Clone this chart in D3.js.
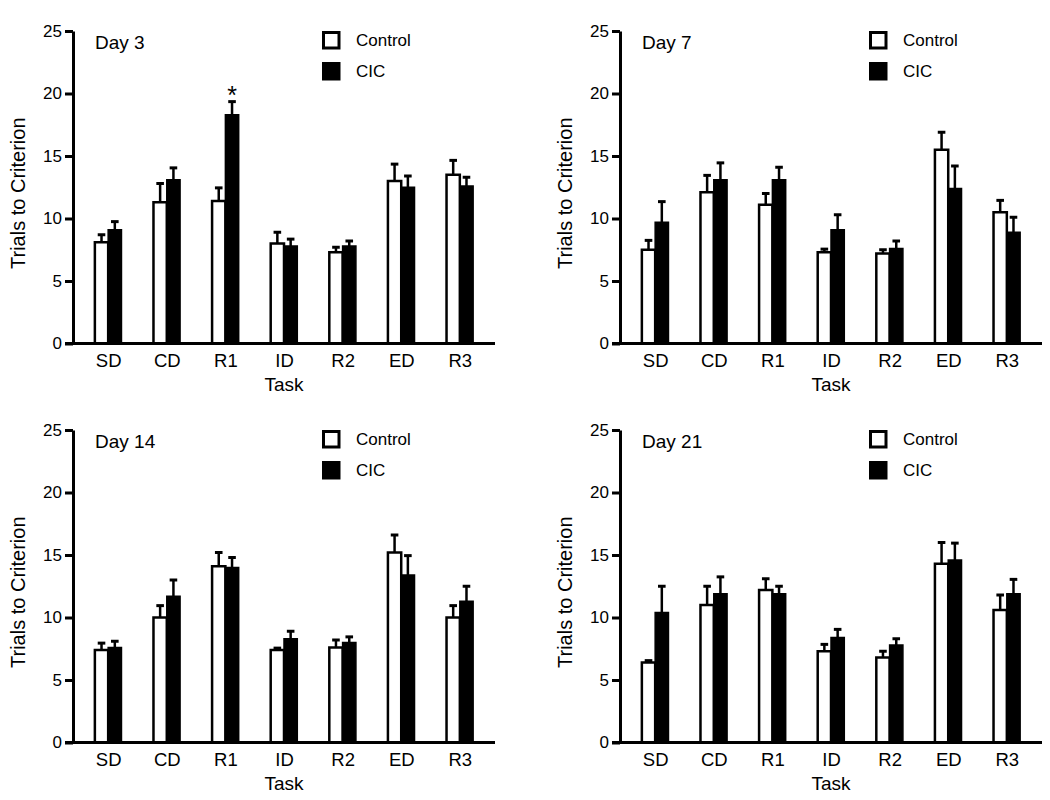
<!DOCTYPE html>
<html>
	<head>
		<title>Trials to Criterion</title>
		<meta http-equiv='Content-Type' content='text/html;charset=utf-8'/>
		<style>
		body {
			margin: 0;
			background: #ffffff;
		}
		svg {
			font-family: 'Liberation Sans', Arial, sans-serif;
			display: block;
		}
		.axis path, .axis line {
			fill: none;
			stroke: #000000;
			stroke-width: 3px;
		}
		.axis text {
			fill: #000000;
		}
		</style>
	</head>

	<body>
	<script src='https://d3js.org/d3.v7.min.js'></script>

	<script>
	'use strict';

	// data
	const tasks = ['SD', 'CD', 'R1', 'ID', 'R2', 'ED', 'R3'];
	const days = ['Day 3', 'Day 7', 'Day 14', 'Day 21'];
	const groups = ['Control', 'CIC'];
	const yTicks = [0, 5, 10, 15, 20, 25];

	const day3Control    = [8.1, 11.3, 11.4, 8.0, 7.3, 13.0, 13.5];
	const day3ControlErr = [0.6, 1.5, 1.05, 0.9, 0.4, 1.35, 1.15];
	const day3Cic        = [9.1, 13.1, 18.3, 7.8, 7.8, 12.5, 12.6];
	const day3CicErr     = [0.65, 0.95, 1.05, 0.55, 0.4, 0.9, 0.7];

	const day7Control    = [7.5, 12.1, 11.1, 7.3, 7.2, 15.5, 10.5];
	const day7ControlErr = [0.75, 1.35, 0.9, 0.25, 0.3, 1.4, 0.95];
	const day7Cic        = [9.7, 13.1, 13.1, 9.1, 7.6, 12.4, 8.9];
	const day7CicErr     = [1.65, 1.35, 1.0, 1.2, 0.6, 1.8, 1.2];

	const day14Control    = [7.4, 10.0, 14.1, 7.4, 7.6, 15.2, 10.0];
	const day14ControlErr = [0.55, 0.95, 1.1, 0.15, 0.6, 1.4, 0.95];
	const day14Cic        = [7.6, 11.7, 14.0, 8.3, 8.0, 13.4, 11.3];
	const day14CicErr     = [0.5, 1.3, 0.8, 0.6, 0.45, 1.55, 1.2];

	const day21Control    = [6.4, 11.0, 12.2, 7.3, 6.8, 14.3, 10.6];
	const day21ControlErr = [0.15, 1.5, 0.9, 0.55, 0.5, 1.7, 1.2];
	const day21Cic        = [10.4, 11.9, 11.9, 8.4, 7.8, 14.6, 11.9];
	const day21CicErr     = [2.1, 1.35, 0.6, 0.65, 0.5, 1.35, 1.15];

	// significant differences (day, task) marked with a star
	const significant = [['Day 3', 'R1']];

	const controlByDay = [day3Control, day7Control, day14Control, day21Control];
	const controlErrByDay = [day3ControlErr, day7ControlErr, day14ControlErr, day21ControlErr];
	const cicByDay = [day3Cic, day7Cic, day14Cic, day21Cic];
	const cicErrByDay = [day3CicErr, day7CicErr, day14CicErr, day21CicErr];

	// panel layout
	const panelW = 422;
	const panelH = 312.5;
	const origins = [[73, 31], [620, 31], [73, 430], [620, 430]];
	const barW = 13.3;

	const svg = d3.select('body').append('svg')
		.attr('width', 1050)
		.attr('height', 800);

	days.forEach(function(day, k) {
		const g = svg.append('g')
			.attr('transform', 'translate(' + origins[k][0] + ',' + origins[k][1] + ')');

		const x = d3.scalePoint()
			.domain(tasks)
			.range([0, panelW])
			.padding(0.6);

		const y = d3.scaleLinear()
			.domain([0, 25])
			.range([panelH, 0]);

		const rows = tasks.map(function(t, i) {
			return {
				task: t,
				control: controlByDay[k][i],
				controlErr: controlErrByDay[k][i],
				cic: cicByDay[k][i],
				cicErr: cicErrByDay[k][i]
			};
		});

		// error bars (drawn first so the bar outline sits over the stem)
		const bars = [
			{key: 'control', err: 'controlErr', dx: -barW / 2},
			{key: 'cic', err: 'cicErr', dx: barW / 2}
		];
		bars.forEach(function(b) {
			g.selectAll('.stem-' + b.key)
				.data(rows)
				.enter()
				.append('line')
				.attr('x1', function(d) { return x(d.task) + b.dx; })
				.attr('x2', function(d) { return x(d.task) + b.dx; })
				.attr('y1', function(d) { return y(d[b.key]); })
				.attr('y2', function(d) { return y(d[b.key] + d[b.err]); })
				.attr('stroke', '#000')
				.attr('stroke-width', 2.5);
			g.selectAll('.cap-' + b.key)
				.data(rows)
				.enter()
				.append('line')
				.attr('x1', function(d) { return x(d.task) + b.dx - 3.8; })
				.attr('x2', function(d) { return x(d.task) + b.dx + 3.8; })
				.attr('y1', function(d) { return y(d[b.key] + d[b.err]); })
				.attr('y2', function(d) { return y(d[b.key] + d[b.err]); })
				.attr('stroke', '#000')
				.attr('stroke-width', 3);
		});

		// control bars
		g.selectAll('.control')
			.data(rows)
			.enter()
			.append('rect')
			.attr('x', function(d) { return x(d.task) - barW; })
			.attr('width', barW)
			.attr('y', function(d) { return y(d.control); })
			.attr('height', function(d) { return panelH - y(d.control); })
			.attr('fill', '#fff')
			.attr('stroke', '#000')
			.attr('stroke-width', 2.5);

		// CIC bars
		g.selectAll('.cic')
			.data(rows)
			.enter()
			.append('rect')
			.attr('x', function(d) { return x(d.task); })
			.attr('width', barW)
			.attr('y', function(d) { return y(d.cic); })
			.attr('height', function(d) { return panelH - y(d.cic); })
			.attr('fill', '#000')
			.attr('stroke', '#000')
			.attr('stroke-width', 1.5);

		// stars
		significant.filter(function(s) { return s[0] === day; }).forEach(function(s) {
			const d = rows[tasks.indexOf(s[1])];
			g.append('text')
				.attr('x', x(d.task) + barW / 2)
				.attr('y', y(d.cic + d.cicErr) + 2)
				.attr('text-anchor', 'middle')
				.style('font-size', '25px')
				.text('*');
		});

		// y axis
		const yAxis = g.append('g')
			.attr('class', 'y axis')
			.call(d3.axisLeft(y).tickValues(yTicks).tickSize(8).tickSizeOuter(0).tickPadding(3));
		yAxis.selectAll('text').style('font-size', '17px');

		// x axis, line runs out past the y axis like the zero tick
		const xAxis = g.append('g')
			.attr('class', 'x axis')
			.attr('transform', 'translate(0,' + panelH + ')')
			.call(d3.axisBottom(x).tickSize(0).tickPadding(10));
		xAxis.select('.domain').attr('d', 'M-8,0H' + panelW);
		xAxis.selectAll('text').style('font-size', '18.5px');

		// axis titles
		g.append('text')
			.attr('x', panelW / 2)
			.attr('y', panelH + 47)
			.attr('text-anchor', 'middle')
			.style('font-size', '19px')
			.text('Task');

		g.append('text')
			.attr('transform', 'translate(-55,' + (panelH / 2 + 6) + ') rotate(-90)')
			.attr('text-anchor', 'middle')
			.attr('dy', '0.35em')
			.style('font-size', '20px')
			.text('Trials to Criterion');

		// day label
		g.append('text')
			.attr('x', 22)
			.attr('y', 18)
			.style('font-size', '19px')
			.text(day);

		// legend
		const legend = g.append('g')
			.attr('transform', 'translate(249,0)');
		groups.forEach(function(name, i) {
			legend.append('rect')
				.attr('x', 1.5)
				.attr('y', 1.5 + i * 31)
				.attr('width', 15.5)
				.attr('height', 15.5)
				.attr('fill', i === 0 ? '#fff' : '#000')
				.attr('stroke', '#000')
				.attr('stroke-width', 3);
			legend.append('text')
				.attr('x', 34)
				.attr('y', 9.5 + i * 31)
				.attr('dy', '0.35em')
				.style('font-size', '17px')
				.text(name);
		});
	});
	</script>
</body>
</html>
